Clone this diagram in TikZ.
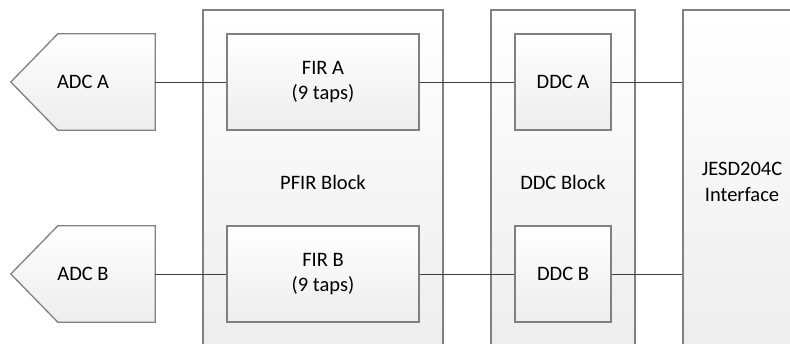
\documentclass[tikz,border=0pt]{standalone}
\usepackage{fontspec}
\setmainfont{Carlito}
\begin{document}
\begin{tikzpicture}[x=1pt,y=-1pt,
  box/.style={draw=black!50, line width=1.3pt, top color=white, bottom color=black!7, inner sep=0pt, align=center, font=\fontsize{20.5}{25.5}\selectfont},
  outer/.style={box, minimum height=344pt, bottom color=black!7},
  ghost/.style={inner sep=0pt, minimum width=144pt, minimum height=96pt},
  pentfill/.style={draw=black!50, line width=1.3pt, top color=white, bottom color=black!7},
  lbl/.style={font=\fontsize{20.5}{25.5}\selectfont},
  conn/.style={draw=black!75, line width=0.9pt}]
\useasboundingbox (0,0) rectangle (790,344);
\clip (0,0) rectangle (790,344);
% outer blocks
\node[outer, minimum width=240pt] (pfir) at (323,182) {PFIR Block};
\node[outer, minimum width=144pt] (ddc) at (563,182) {DDC Block};
\node[outer, minimum width=118pt] (jesd) at (742,182) {JESD204C\\Interface};
% inner blocks
\node[box, minimum width=192pt, minimum height=96pt] (fira) at (323,82) {FIR A\\(9 taps)};
\node[box, minimum width=192pt, minimum height=96pt] (firb) at (323,274) {FIR B\\(9 taps)};
\node[box, minimum width=96pt, minimum height=96pt] (ddca) at (563,82) {DDC A};
\node[box, minimum width=96pt, minimum height=96pt] (ddcb) at (563,274) {DDC B};
% ADC pentagons
\node[ghost] (adca) at (83,82) {};
\draw[pentfill] (adca.north east) -- (adca.south east) -- ([xshift=47pt]adca.south west) -- (adca.west) -- ([xshift=47pt]adca.north west) -- cycle;
\node[lbl] (adcalbl) at (adca) {ADC A};
\node[ghost] (adcb) at (83,274) {};
\draw[pentfill] (adcb.north east) -- (adcb.south east) -- ([xshift=47pt]adcb.south west) -- (adcb.west) -- ([xshift=47pt]adcb.north west) -- cycle;
\node[lbl] (adcblbl) at (adcb) {ADC B};
% connectors
\draw[conn] (adca.east) -- (fira.west);
\draw[conn] (fira.east) -- (ddca.west);
\draw[conn] (ddca.east) -- (ddca.east -| jesd.west);
\draw[conn] (adcb.east) -- (firb.west);
\draw[conn] (firb.east) -- (ddcb.west);
\draw[conn] (ddcb.east) -- (ddcb.east -| jesd.west);
\end{tikzpicture}
\end{document}
